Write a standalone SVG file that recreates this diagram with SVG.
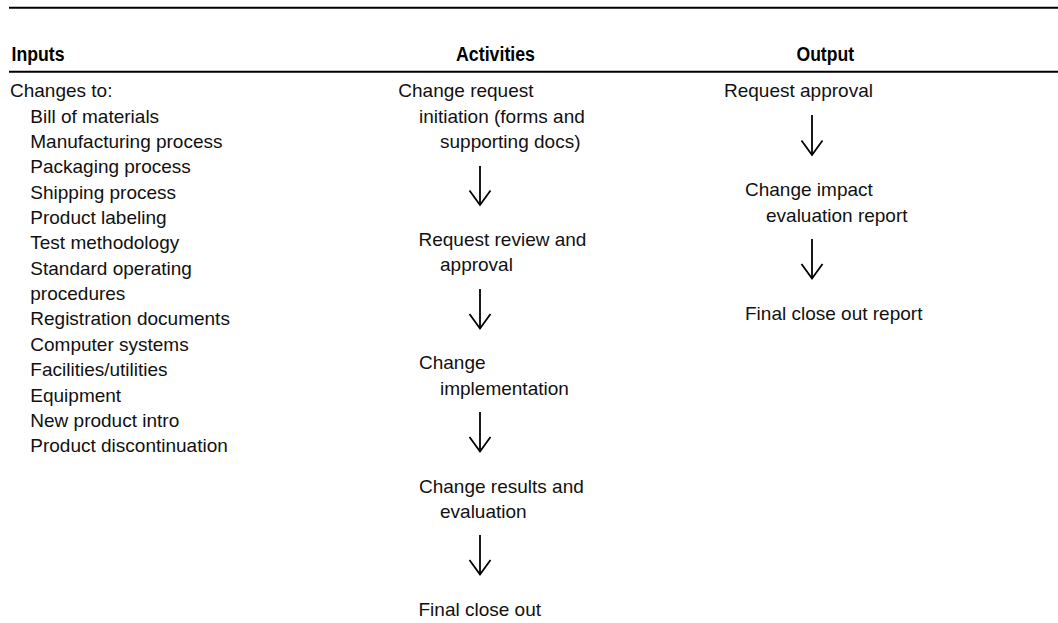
<svg xmlns="http://www.w3.org/2000/svg" width="1058" height="623" viewBox="0 0 1058 623">
  <style>
    .rule { stroke: #000; stroke-width: 2; fill: none; }
    .hdr { font-family: "Liberation Sans", Arial, sans-serif; font-weight: bold; font-size: 20px; fill: #000; }
    .txt { font-family: "Liberation Sans", Arial, sans-serif; font-size: 19px; fill: #111; }
    .flow { stroke: #000; stroke-width: 1.8; fill: none; }
  </style>
  <defs>
    <marker id="head" markerUnits="userSpaceOnUse" markerWidth="1" markerHeight="1" refX="0" refY="0" orient="auto" overflow="visible">
      <path d="M -14.5 -10.5 L 0 0 L -14.5 10.5" fill="none" stroke="#000" stroke-width="1.8"/>
    </marker>
  </defs>
  <rect width="1058" height="623" fill="#fff"/>

  <!-- table rules -->
  <g id="rules">
    <line class="rule" x1="9" y1="7.7" x2="1058" y2="7.7"/>
    <line class="rule" x1="9" y1="71.7" x2="1058" y2="71.7"/>
  </g>

  <!-- column headings -->
  <g id="headings">
    <text class="hdr" x="11.5" y="60.5" textLength="53" lengthAdjust="spacingAndGlyphs">Inputs</text>
    <text class="hdr" x="456" y="60.5" textLength="79" lengthAdjust="spacingAndGlyphs">Activities</text>
    <text class="hdr" x="796.5" y="60.5" textLength="57.5" lengthAdjust="spacingAndGlyphs">Output</text>
  </g>

  <!-- inputs list -->
  <g id="inputs" class="txt">
    <text x="10" y="97.3">Changes to:</text>
    <text x="30.3" y="122.6">Bill of materials</text>
    <text x="30.3" y="148">Manufacturing process</text>
    <text x="30.3" y="173.3">Packaging process</text>
    <text x="30.3" y="198.7">Shipping process</text>
    <text x="30.3" y="224">Product labeling</text>
    <text x="30.3" y="249.4">Test methodology</text>
    <text x="30.3" y="274.7">Standard operating</text>
    <text x="30.3" y="300.1">procedures</text>
    <text x="30.3" y="325.4">Registration documents</text>
    <text x="30.3" y="350.8">Computer systems</text>
    <text x="30.3" y="376.1">Facilities/utilities</text>
    <text x="30.3" y="401.5">Equipment</text>
    <text x="30.3" y="426.8">New product intro</text>
    <text x="30.3" y="452.2">Product discontinuation</text>
  </g>

  <!-- activities -->
  <g id="act-initiation" class="txt">
    <text x="398.3" y="97.3">Change request</text>
    <text x="419" y="122.8">initiation (forms and</text>
    <text x="440" y="148.3">supporting docs)</text>
  </g>
  <g id="act-review" class="txt">
    <text x="418.5" y="246">Request review and</text>
    <text x="440" y="271.3">approval</text>
  </g>
  <g id="act-implementation" class="txt">
    <text x="419" y="369.3">Change</text>
    <text x="440" y="394.6">implementation</text>
  </g>
  <g id="act-results" class="txt">
    <text x="419" y="492.7">Change results and</text>
    <text x="440" y="518">evaluation</text>
  </g>
  <g id="act-closeout" class="txt">
    <text x="418.5" y="616">Final close out</text>
  </g>

  <!-- outputs -->
  <g id="out-approval" class="txt">
    <text x="724" y="97.3">Request approval</text>
  </g>
  <g id="out-impact" class="txt">
    <text x="745" y="196">Change impact</text>
    <text x="766" y="221.5">evaluation report</text>
  </g>
  <g id="out-final" class="txt">
    <text x="745" y="319.5">Final close out report</text>
  </g>

  <!-- downward flow arrows -->
  <g id="connectors">
    <line class="flow" x1="480" y1="166" x2="480" y2="205" marker-end="url(#head)"/>
    <line class="flow" x1="480" y1="289" x2="480" y2="328.5" marker-end="url(#head)"/>
    <line class="flow" x1="480" y1="412" x2="480" y2="451.5" marker-end="url(#head)"/>
    <line class="flow" x1="480" y1="535" x2="480" y2="574.5" marker-end="url(#head)"/>
    <line class="flow" x1="812" y1="115" x2="812" y2="155" marker-end="url(#head)"/>
    <line class="flow" x1="812" y1="239" x2="812" y2="278.5" marker-end="url(#head)"/>
  </g>
</svg>
